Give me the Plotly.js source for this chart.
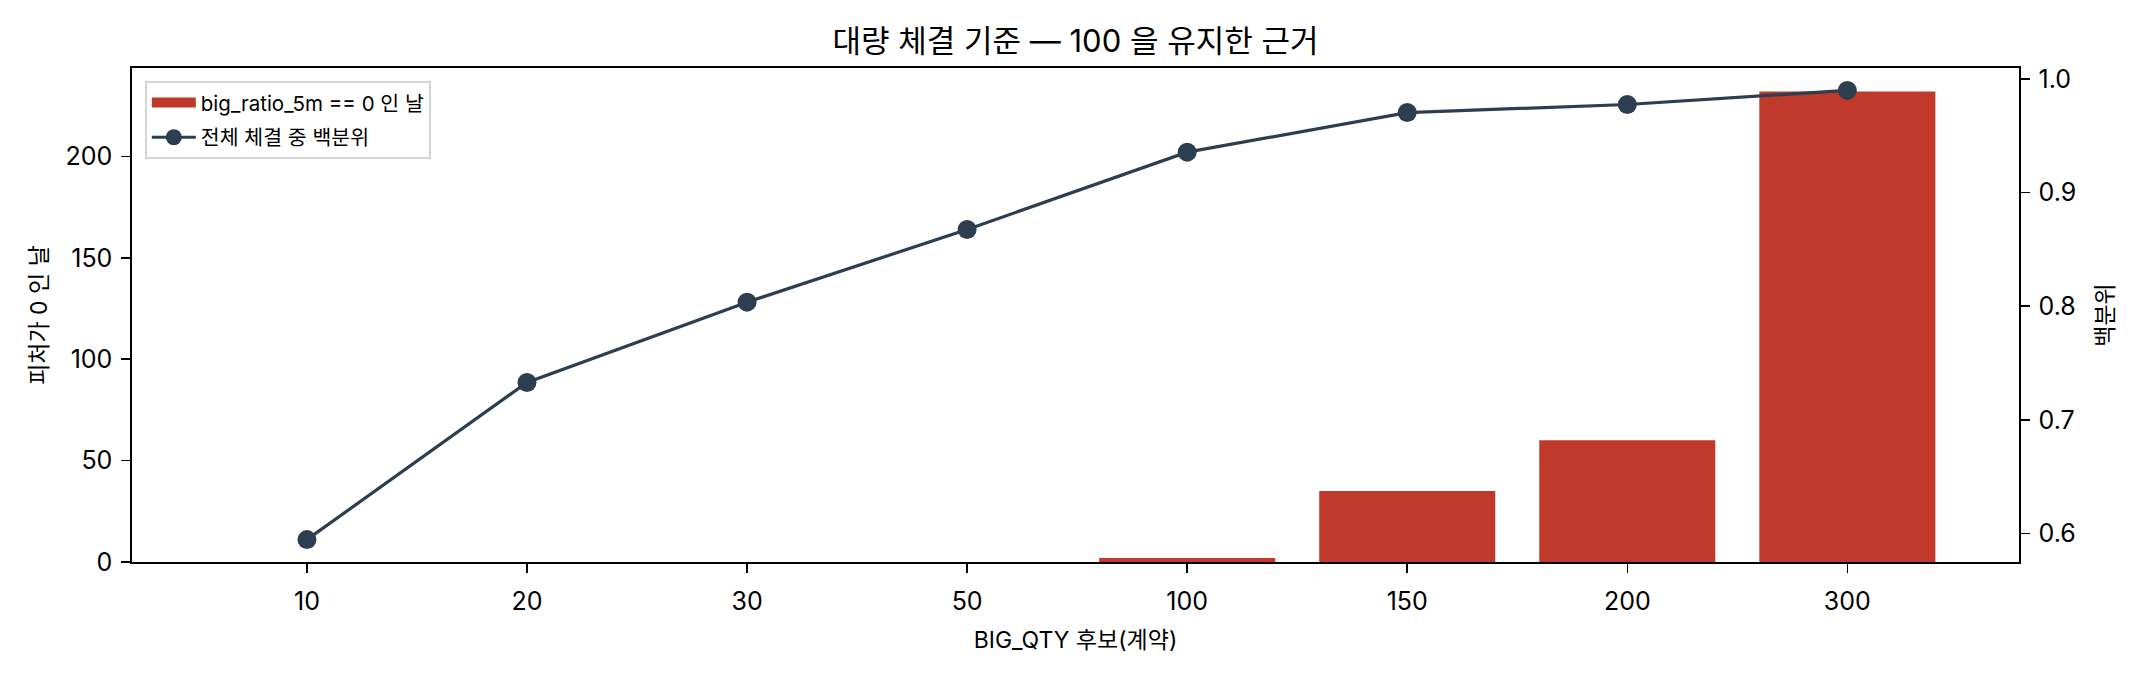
<!DOCTYPE html>
<html>
<head>
<meta charset="utf-8">
<script src="https://cdn.plot.ly/plotly-3.0.1.min.js"></script>
<style>html,body{margin:0;padding:0;background:#fff;}#chart{width:2143px;height:680px;}</style>
</head>
<body>
<div id="chart"></div>
<script>
const categories = ["10", "20", "30", "50", "100", "150", "200", "300"];
const zeroDays = [0, 0, 0, 0, 2, 35, 60, 232];
const percentile = [0.5948, 0.733, 0.8036, 0.8675, 0.9355, 0.9703, 0.9774, 0.9898];
const barName = "big_ratio_5m == 0 인 날";
const lineName = "전체 체결 중 백분위";
const titleText = "대량 체결 기준 — 100 을 유지한 근거";
const xTitle = "BIG_QTY 후보(계약)";
const yTitle = "피처가 0 인 날";
const y2Title = "백분위";

const FONT = "Inter, 'Noto Sans CJK KR', sans-serif";
const BAR_COLOR = "#c0392b";
const LINE_COLOR = "#2c3e50";
const idx = categories.map((c, i) => i);

const traces = [
  {
    type: "bar", x: idx, y: zeroDays, name: barName, width: 0.8,
    marker: {color: BAR_COLOR, line: {width: 0}}, yaxis: "y", showlegend: false
  },
  {
    // legend-only entry giving the bar series a wide patch like the reference
    type: "scatter", mode: "lines", x: [null], y: [null], name: barName,
    line: {color: BAR_COLOR, width: 16}, yaxis: "y", legendgroup: "a", hoverinfo: "skip"
  },
  {
    type: "scatter", mode: "lines+markers", x: idx, y: percentile, name: lineName,
    line: {color: LINE_COLOR, width: 3.2}, marker: {color: LINE_COLOR, size: 19},
    yaxis: "y2", legendgroup: "b"
  }
];

const axisCommon = {
  showline: true, linecolor: "#000", linewidth: 1.6, ticks: "outside", ticklen: 9,
  tickwidth: 1.6, tickcolor: "#000", showgrid: false, zeroline: false,
  tickfont: {family: FONT, size: 25, color: "#000"}
};
const titleFont = {family: FONT, size: 23, color: "#000"};

const layout = {
  width: 2143, height: 680,
  margin: {l: 132, r: 124, t: 68, b: 118},
  paper_bgcolor: "#fff", plot_bgcolor: "#fff",
  font: {family: FONT, color: "#000"},
  title: {text: titleText, font: {family: FONT, size: 31, color: "#000"}, x: 0.5, xanchor: "center", xref: "paper", y: 0.94, yanchor: "middle"},
  xaxis: Object.assign({}, axisCommon, {
    range: [-0.795, 7.78], tickmode: "array", tickvals: idx, ticktext: categories,
    mirror: true, ticklabelstandoff: 7,
    title: {text: xTitle, font: titleFont, standoff: 17}
  }),
  yaxis: Object.assign({}, axisCommon, {
    range: [0, 243.6], tickvals: [0, 50, 100, 150, 200], ticklabelstandoff: 4,
    title: {text: yTitle, font: titleFont, standoff: 11}
  }),
  yaxis2: Object.assign({}, axisCommon, {
    overlaying: "y", side: "right", range: [0.5751, 1.0095],
    tickvals: [0.6, 0.7, 0.8, 0.9, 1.0], tickformat: ".1f", ticklabelstandoff: 4,
    title: {text: y2Title, font: titleFont, standoff: 21}
  }),
  showlegend: true,
  legend: {
    x: 0.0069, y: 0.9737, xanchor: "left", yanchor: "top",
    bgcolor: "rgba(255,255,255,0.85)", bordercolor: "#d5d5d5", borderwidth: 1.8,
    font: {family: FONT, size: 20.5, color: "#000"},
    traceorder: "grouped", tracegroupgap: 5, itemwidth: 44
  }
};

Plotly.newPlot("chart", traces, layout, {displayModeBar: false, staticPlot: true});
</script>
</body>
</html>
